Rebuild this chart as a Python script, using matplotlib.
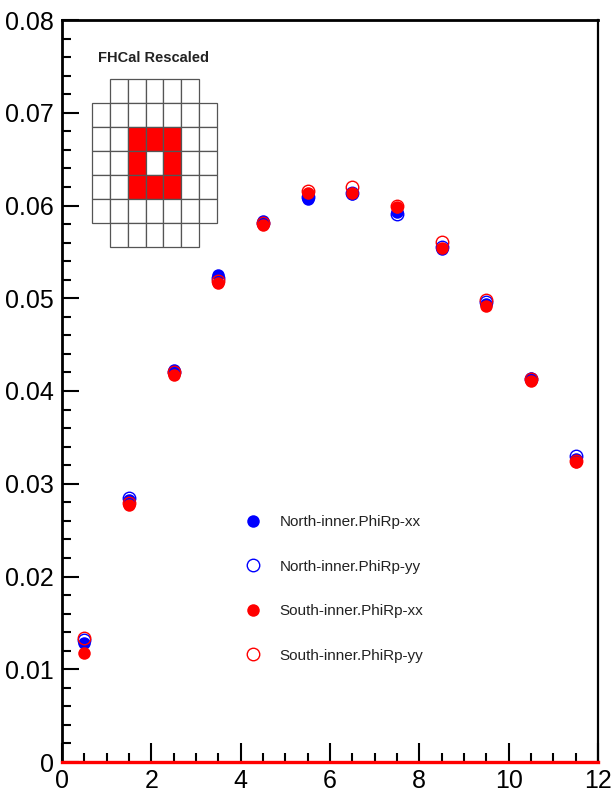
import matplotlib
matplotlib.use("Agg")
import matplotlib.pyplot as plt
from matplotlib.patches import Rectangle
from matplotlib.ticker import MultipleLocator, FixedLocator, FixedFormatter

FONT = ["Liberation Sans Narrow", "Liberation Sans", "DejaVu Sans"]
plt.rcParams["font.family"] = FONT

# Bin centres and the four series
x = [0.5, 1.5, 2.5, 3.5, 4.5, 5.5, 6.5, 7.5, 8.5, 9.5, 10.5, 11.5]
north_xx = [0.0128, 0.0283, 0.0423, 0.0525, 0.0583, 0.0607, 0.0612, 0.0593, 0.0553, 0.0494, 0.0414, 0.0327]
north_yy = [0.0131, 0.0285, 0.0421, 0.0522, 0.0581, 0.0609, 0.0614, 0.0591, 0.0555, 0.0496, 0.0413, 0.0330]
south_xx = [0.0118, 0.0277, 0.0417, 0.0516, 0.0579, 0.0613, 0.0613, 0.0598, 0.0554, 0.0492, 0.0411, 0.0323]
south_yy = [0.0134, 0.0279, 0.0420, 0.0519, 0.0581, 0.0616, 0.0620, 0.0600, 0.0561, 0.0498, 0.0413, 0.0325]

labels = ["North-inner.PhiRp-xx", "North-inner.PhiRp-yy",
          "South-inner.PhiRp-xx", "South-inner.PhiRp-yy"]

y_ticks = [0, 0.01, 0.02, 0.03, 0.04, 0.05, 0.06, 0.07, 0.08]
y_tick_labels = ["0", "0.01", "0.02", "0.03", "0.04", "0.05", "0.06", "0.07", "0.08"]
x_ticks = [0, 2, 4, 6, 8, 10, 12]
x_tick_labels = ["0", "2", "4", "6", "8", "10", "12"]

# Calorimeter module map: cells present per row, and highlighted (row, col) cells
module_rows = [range(1, 6), range(0, 7), range(0, 7), range(0, 7),
               range(0, 7), range(0, 7), range(1, 6)]
inner_cells = [(2, 2), (2, 3), (2, 4), (3, 2), (3, 4), (4, 2), (4, 3), (4, 4)]

W, H = 613, 797
fig = plt.figure(figsize=(W / 100, H / 100), dpi=100)
ax = fig.add_axes([62 / W, 1 - 762 / H, (598 - 62) / W, (762 - 20) / H])

ms = 9.0
ax.plot(x, north_xx, "o", color="blue", ms=ms, mew=0, label=labels[0], zorder=3)
ax.plot(x, north_yy, "o", mfc="none", mec="blue", ms=ms, mew=1.0, label=labels[1], zorder=3)
ax.plot(x, south_xx, "o", color="red", ms=ms, mew=0, label=labels[2], zorder=3)
ax.plot(x, south_yy, "o", mfc="none", mec="red", ms=ms, mew=1.0, label=labels[3], zorder=3)

ax.axhline(0, color="red", lw=2.4, zorder=5, clip_on=False)

ax.set_xlim(0, 12)
ax.set_ylim(0, 0.08)

ax.yaxis.set_major_locator(FixedLocator(y_ticks))
ax.yaxis.set_major_formatter(FixedFormatter(y_tick_labels))
ax.yaxis.set_minor_locator(MultipleLocator(0.002))
ax.xaxis.set_major_locator(FixedLocator(x_ticks))
ax.xaxis.set_major_formatter(FixedFormatter(x_tick_labels))
ax.xaxis.set_minor_locator(MultipleLocator(0.5))

ax.tick_params(axis="both", which="both", direction="in", width=1.5, color="black",
               top=False, right=False, labelsize=18)
ax.tick_params(axis="y", which="major", length=12, pad=6)
ax.tick_params(axis="y", which="minor", length=6.5)
ax.tick_params(axis="x", which="major", length=14, pad=5)
ax.tick_params(axis="x", which="minor", length=6.5)

for side in ["left", "top", "right", "bottom"]:
    ax.spines[side].set_linewidth(2.0)
ax.spines["right"].set_linewidth(1.6)

leg = ax.legend(loc="upper left", bbox_to_anchor=((245 - 62) / (598 - 62), (762 - 515) / (762 - 20)),
                frameon=False, fontsize=11, handletextpad=1.25, labelspacing=2.0,
                handlelength=1.0, borderpad=0, borderaxespad=0)
for t in leg.get_texts():
    t.set_color("#222222")

# Inset module map
inset = fig.add_axes([92 / W, 1 - 247 / H, 125 / W, 168 / H])
inset.set_xlim(0, 7)
inset.set_ylim(7, 0)
inset.axis("off")
for r, cols in enumerate(module_rows):
    for c in cols:
        face = "red" if (r, c) in inner_cells else "white"
        inset.add_patch(Rectangle((c, r), 1, 1, facecolor=face, edgecolor="#555555",
                                  linewidth=0.9, clip_on=False))
fig.text(154 / W, 1 - 58 / H, "FHCal Rescaled", ha="center", va="center",
         fontsize=10.5, fontweight="bold", family=["Liberation Sans", "DejaVu Sans"],
         color="#222222")

fig.savefig("out.png", dpi=100)
